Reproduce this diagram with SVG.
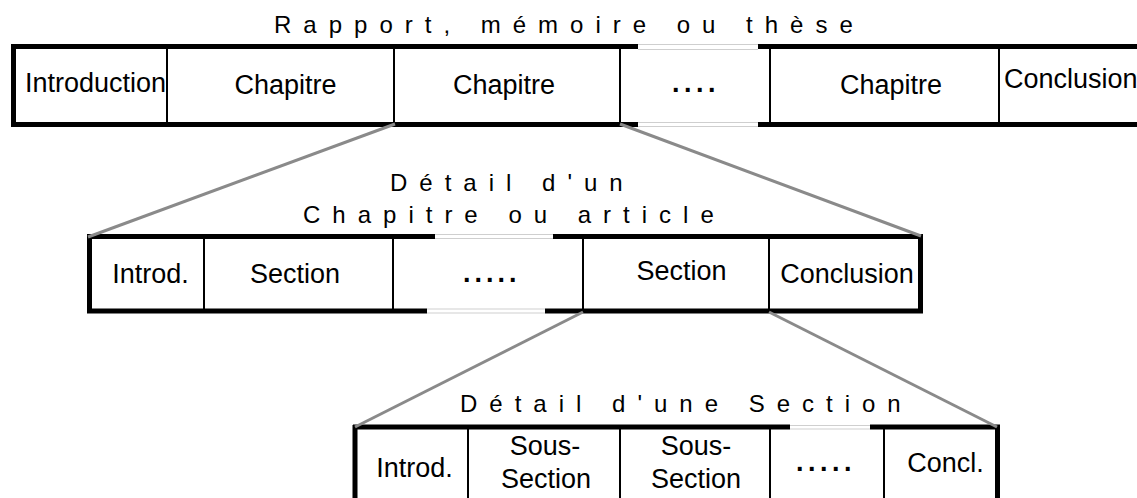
<svg xmlns="http://www.w3.org/2000/svg" width="1137" height="498" viewBox="0 0 1137 498">
<style>
.title{font-family:"Liberation Sans",Arial,sans-serif;font-size:24px;letter-spacing:12px;fill:#000}
.lbl{font-family:"Liberation Sans",Arial,sans-serif;font-size:27px;fill:#000;text-anchor:middle}
.dots{font-family:"Liberation Sans",Arial,sans-serif;font-size:27px;font-weight:bold;letter-spacing:4.5px;fill:#000}
.thick{stroke:#000;stroke-width:5;fill:none}
.thin{stroke:#000;stroke-width:2;fill:none}
.gap{stroke:#cfcfcf;stroke-width:1;fill:none}
.conn{stroke:#8a8a8a;stroke-width:3;fill:none}
</style>
<rect width="1137" height="498" fill="#fff"/>

<g id="row1">
  <text class="title" x="274" y="33">Rapport, mémoire ou thèse</text>
  <path class="thick" d="M11 46.5H638M758 46.5H1137M11 124.5H638M758 124.5H1137M13.5 44V127"/>
  <path class="gap" d="M638 44.5H758M638 49.5H758M638 122.5H758M638 126.5H758"/>
  <path class="thin" d="M167 49V122M394 49V122M620 49V122M770 49V122M999 49V122"/>
  <g id="r1-introduction"><text class="lbl" x="95.5" y="92">Introduction</text></g>
  <g id="r1-chapitre1"><text class="lbl" x="285.5" y="94">Chapitre</text></g>
  <g id="r1-chapitre2"><text class="lbl" x="504" y="94">Chapitre</text></g>
  <g id="r1-dots"><text class="dots" x="672" y="92">....</text></g>
  <g id="r1-chapitre3"><text class="lbl" x="891" y="94">Chapitre</text></g>
  <g id="r1-conclusion"><text class="lbl" x="1004" y="88" style="text-anchor:start">Conclusion</text></g>
</g>

<g id="row2">
  <text class="title" x="390" y="191">Détail d'un</text>
  <text class="title" x="303" y="223">Chapitre ou article</text>
  <path class="thick" d="M87 236.5H435M553 236.5H923M87 311H427M545 311H923M89.5 234V313.5M920.5 234V313.5"/>
  <path class="gap" d="M435 234.5H553M435 238.5H553M427 309H545M427 313H545"/>
  <path class="thin" d="M204 239V309M393 239V309M583 239V309M769 239V309"/>
  <g id="r2-introd"><text class="lbl" x="150.5" y="283">Introd.</text></g>
  <g id="r2-section1"><text class="lbl" x="295" y="283">Section</text></g>
  <g id="r2-dots"><text class="dots" x="463" y="282" style="letter-spacing:4px">.....</text></g>
  <g id="r2-section2"><text class="lbl" x="681.5" y="280">Section</text></g>
  <g id="r2-conclusion"><text class="lbl" x="847" y="283">Conclusion</text></g>
</g>

<g id="row3">
  <text class="title" x="460" y="412">Détail d'une Section</text>
  <path class="thick" d="M353 427H790M870 427H1000M355 425V503M997.5 425V503M353 500.5H1000"/>
  <path class="gap" d="M790 425.5H870M790 429H870"/>
  <path class="thin" d="M468 429V498M620 429V498M770 429V498M884 429V498"/>
  <g id="r3-introd"><text class="lbl" x="414.5" y="477">Introd.</text></g>
  <g id="r3-soussection1"><text class="lbl" x="545" y="455">Sous-</text><text class="lbl" x="546" y="488">Section</text></g>
  <g id="r3-soussection2"><text class="lbl" x="696" y="455">Sous-</text><text class="lbl" x="696" y="488">Section</text></g>
  <g id="r3-dots"><text class="dots" x="796" y="471">.....</text></g>
  <g id="r3-concl"><text class="lbl" x="945.5" y="472">Concl.</text></g>
</g>

<g id="connectors">
  <line class="conn" x1="395" y1="124" x2="88" y2="237"/>
  <line class="conn" x1="620" y1="124" x2="921" y2="236"/>
  <line class="conn" x1="583" y1="312" x2="355" y2="427"/>
  <line class="conn" x1="769" y1="312" x2="997" y2="427"/>
</g>
</svg>
